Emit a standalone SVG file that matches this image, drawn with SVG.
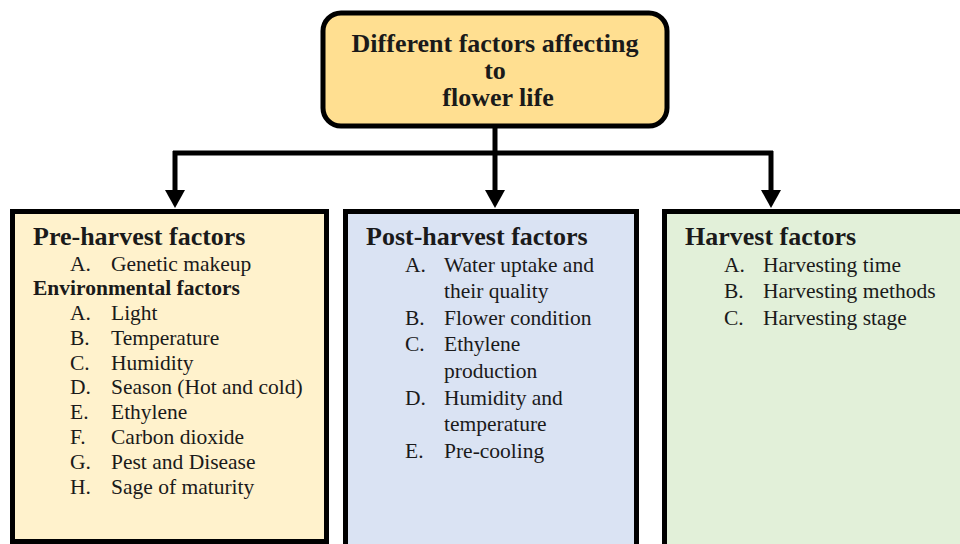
<svg xmlns="http://www.w3.org/2000/svg" width="960" height="544" viewBox="0 0 960 544">
<rect width="960" height="544" fill="#fff"/>
<g id="connectors" stroke="#000" stroke-width="5" fill="none">
<path d="M495,128 V153"/>
<path d="M173,153 H773"/>
<path d="M175,151 V192"/>
<path d="M495,151 V192"/>
<path d="M771,151 V192"/>
<g fill="#000" stroke="none">
<path d="M165,190 L185,190 L175,208 Z"/>
<path d="M485,190 L505,190 L495,208 Z"/>
<path d="M761,190 L781,190 L771,208 Z"/>
</g>
</g>
<g fill="#1a1a1a" font-family="Liberation Serif" font-size="21.5">
<g id="title" font-size="26" font-weight="bold" text-anchor="middle">
<rect stroke="#000" stroke-width="5" x="323" y="13" width="344" height="113" rx="18" fill="#FFDF91"/>
<text x="495" y="52">Different factors affecting</text>
<text x="495" y="79">to</text>
<text x="498" y="106">flower life</text>
</g>
<g id="pre-harvest">
<rect stroke="#000" stroke-width="5" x="12.5" y="211.5" width="314" height="330" fill="#FFF2CC"/>
<text font-size="26" font-weight="bold" x="33" y="245">Pre-harvest factors</text>
<text x="70" y="271">A.</text><text x="111" y="271">Genetic makeup</text>
<text font-weight="bold" x="33" y="295">Environmental factors</text>
<text x="70" y="320">A.</text><text x="111" y="320">Light</text>
<text x="70" y="345">B.</text><text x="111" y="345">Temperature</text>
<text x="70" y="370">C.</text><text x="111" y="370">Humidity</text>
<text x="70" y="394">D.</text><text x="111" y="394">Season (Hot and cold)</text>
<text x="70" y="419">E.</text><text x="111" y="419">Ethylene</text>
<text x="70" y="444">F.</text><text x="111" y="444">Carbon dioxide</text>
<text x="70" y="469">G.</text><text x="111" y="469">Pest and Disease</text>
<text x="70" y="494">H.</text><text x="111" y="494">Sage of maturity</text>
</g>
<g id="post-harvest">
<rect stroke="#000" stroke-width="5" x="345.5" y="211.5" width="291" height="335" fill="#DAE3F3"/>
<text font-size="26" font-weight="bold" x="366" y="245">Post-harvest factors</text>
<text x="405" y="272">A.</text><text x="444" y="272">Water uptake and</text>
<text x="444" y="298">their quality</text>
<text x="405" y="325">B.</text><text x="444" y="325">Flower condition</text>
<text x="405" y="351">C.</text><text x="444" y="351">Ethylene</text>
<text x="444" y="378">production</text>
<text x="405" y="405">D.</text><text x="444" y="405">Humidity and</text>
<text x="444" y="431">temperature</text>
<text x="405" y="458">E.</text><text x="444" y="458">Pre-cooling</text>
</g>
<g id="harvest">
<rect stroke="#000" stroke-width="5" x="664.5" y="211.5" width="310" height="335" fill="#E2F0D9"/>
<text font-size="26" font-weight="bold" x="685" y="245">Harvest factors</text>
<text x="724" y="272">A.</text><text x="763" y="272">Harvesting time</text>
<text x="724" y="298">B.</text><text x="763" y="298">Harvesting methods</text>
<text x="724" y="325">C.</text><text x="763" y="325">Harvesting stage</text>
</g>
</g>
</svg>
